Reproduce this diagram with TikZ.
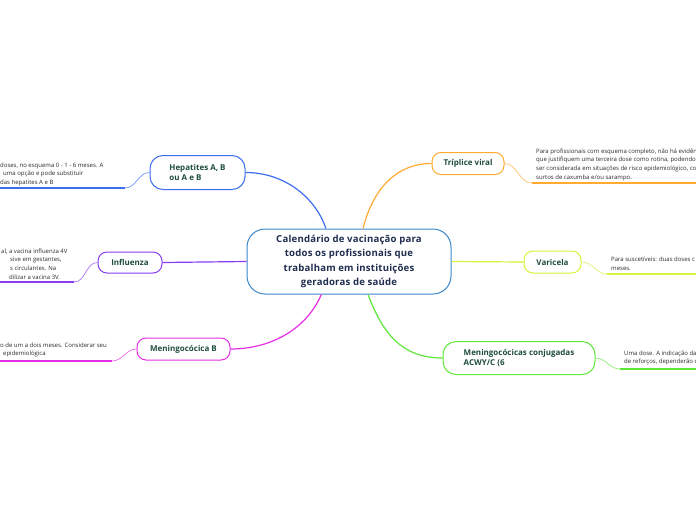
\documentclass[tikz,border=0pt]{standalone}
\usepackage{fontspec}
\setmainfont{Open Sans}
\definecolor{calblue}{HTML}{3B86C8}
\definecolor{calnavy}{HTML}{1F2D4F}
\definecolor{labelgreen}{HTML}{1E4D3C}
\definecolor{hepblue}{HTML}{3D6EF2}
\definecolor{inflpurple}{HTML}{8A3CF5}
\definecolor{mengmag}{HTML}{E62EE6}
\definecolor{triporange}{HTML}{FFAA33}
\definecolor{varlime}{HTML}{D6F23A}
\definecolor{conjgreen}{HTML}{5EE83A}
\definecolor{notegray}{HTML}{2B2B2B}
\tikzset{
  topic/.style={draw=#1, line width=1pt, fill=white, rounded corners=9pt,
    font=\fontsize{8}{10.5}\selectfont\bfseries, text=labelgreen, align=left, inner sep=2pt},
  note/.style={font=\fontsize{6}{8.6}\selectfont, text=notegray, align=left,
    anchor=north west, inner sep=0pt},
  branch/.style={draw=#1, line width=1.2pt},
  twig/.style={draw=#1!70, line width=0.7pt},
  stem/.style={draw=#1, line width=2pt},
}
\begin{document}
\begin{tikzpicture}[x=1pt,y=-1pt]
  \clip (0,0) rectangle (696,520);
  \fill[white] (0,0) rectangle (696,520);

  % central topic
  \node[draw=calblue, line width=1pt, fill=white, rounded corners=18pt,
    minimum width=204pt, minimum height=65pt, align=center, text=calnavy,
    font=\fontsize{9.6}{14.5}\selectfont\bfseries\addfontfeature{LetterSpace=2}] (cal) at (349,261.5)
    {Calendário de vacinação para\\todos os profissionais que\\trabalham em instituições\\geradoras de saúde};

  % main topics
  \node[topic=hepblue, rounded corners=13pt, minimum width=95pt, minimum height=34pt] (hep) at (197.5,172.5) {Hepatites A, B\\ou A e B};
  \node[topic=inflpurple, minimum width=64pt, minimum height=21pt] (infl) at (130,262.5) {Influenza};
  \node[topic=mengmag, minimum width=93pt, minimum height=22pt] (mengb) at (183.5,349) {Meningocócica B};
  \node[topic=triporange, minimum width=72pt, minimum height=22pt] (trip) at (468,163.5) {Tríplice viral};
  \node[topic=varlime, minimum width=57pt, minimum height=22pt] (var) at (552.5,262) {Varicela};
  \node[topic=conjgreen, rounded corners=13pt, minimum width=152pt, minimum height=33pt] (conj) at (519,358) {Meningocócicas conjugadas\\ACWY/C (6};

  % connectors from the center
  \draw[branch=hepblue] (cal.125) .. controls +(-10,-30) and +(40,0) .. (hep.east);
  \draw[branch=inflpurple] (cal.west) -- (infl.east);
  \draw[branch=mengmag] (cal.230) .. controls +(-15,35) and +(40,0) .. (mengb.east);
  \draw[branch=triporange] (cal.67) .. controls +(10,-40) and +(-35,0) .. (trip.west);
  \draw[branch=varlime] (cal.east) -- (var.west);
  \draw[branch=conjgreen] (cal.300) .. controls +(15,40) and +(-40,0) .. (conj.west);

  % notes
  \coordinate (hepA) at (125,188);  \coordinate (hepB) at (0,188);
  \coordinate (inflA) at (74,282);  \coordinate (inflB) at (0,282);
  \coordinate (mengA) at (112,361); \coordinate (mengB) at (0,361);
  \coordinate (tripA) at (532,183); \coordinate (tripB) at (696,183);
  \coordinate (varA) at (607,274);  \coordinate (varB) at (696,274);
  \coordinate (conjA) at (620,369); \coordinate (conjB) at (696,369);

  \draw[twig=hepblue] (hep.west) to[out=180,in=0] (hepA);
  \draw[stem=hepblue] (hepA) -- (hepB);
  \draw[twig=inflpurple] (infl.west) to[out=180,in=0] (inflA);
  \draw[stem=inflpurple] (inflA) -- (inflB);
  \draw[twig=mengmag] (mengb.west) to[out=180,in=0] (mengA);
  \draw[stem=mengmag] (mengA) -- (mengB);
  \draw[twig=triporange] (trip.east) to[out=0,in=180] (tripA);
  \draw[stem=triporange] (tripA) -- (tripB);
  \draw[twig=varlime] (var.east) to[out=0,in=180] (varA);
  \draw[stem=varlime] (varA) -- (varB);
  \draw[twig=conjgreen] (conj.east) to[out=0,in=180] (conjA);
  \draw[stem=conjgreen] (conjA) -- (conjB);

  \node[note] (hepnote) at (0,162.5) {doses, no esquema 0 - 1 - 6 meses. A\\\hspace{3pt}uma opção e pode substituir\\das hepatites A e B};
  \node[note] (inflnote) at (1,248.5) {al, a vacina influenza 4V\\\hspace{9pt}sive em gestantes,\\\hspace{9pt}s circulantes. Na\\\hspace{8pt}dilizar a vacina 3V.};
  \node[note] (mengnote) at (0,342.5) {o de um a dois meses. Considerar seu\\\hspace{3pt}epidemiológica};
  \node[note] (tripnote) at (536,148.5) {Para profissionais com esquema completo, não há evidên\\que justifiquem uma terceira dose como rotina, podendo\\ser considerada em situações de risco epidemiológico, co\\surtos de caxumba e/ou sarampo.};
  \node[note] (varnote) at (611,257) {Para suscetíveis: duas doses c\\meses.};
  \node[note] (conjnote) at (624,350.5) {Uma dose. A indicação da\\de reforços, dependerão d};
\end{tikzpicture}
\end{document}
